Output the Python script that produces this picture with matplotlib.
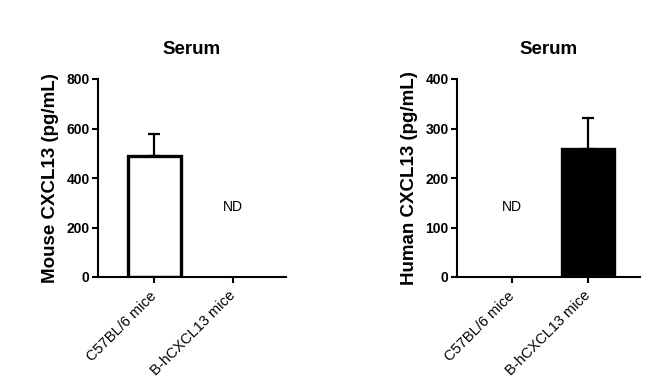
import matplotlib
matplotlib.use('Agg')
import matplotlib.pyplot as plt
import numpy as np

plt.rcParams['font.family'] = ['Liberation Sans', 'DejaVu Sans']

groups = ['C57BL/6 mice', 'B-hCXCL13 mice']
mouse_mean = [490, 0]
mouse_err = [88, 0]
human_mean = [0, 259]
human_err = [0, 63]
mouse_ylim = 800
human_ylim = 400
mouse_ticks = [0, 200, 400, 600, 800]
human_ticks = [0, 100, 200, 300, 400]


def draw_panel(ax, means, errs, colors, ylabel, ymax, ticks, nd_index):
    x = np.arange(len(groups))
    for i in range(len(groups)):
        if means[i] <= 0:
            continue
        ax.bar(x[i], means[i], width=0.68, color=colors[i], edgecolor='black',
               linewidth=2.4, zorder=2)
        ax.errorbar(x[i], means[i], yerr=[[0], [errs[i]]], color='black',
                    elinewidth=1.6, capsize=4, capthick=1.6, zorder=1)
    ax.text(x[nd_index], ymax * 0.355, 'ND', ha='center', va='center', fontsize=10)
    ax.set_xlim(-0.72, 1.68)
    ax.set_ylim(0, ymax)
    ax.set_yticks(ticks)
    ax.set_xticks(x)
    ax.set_xticklabels(groups, rotation=45, ha='right', va='center',
                       rotation_mode='anchor', fontsize=10.5)
    for lab in ax.get_yticklabels():
        lab.set_fontweight('bold')
        lab.set_fontsize(10)
    ax.spines['top'].set_visible(False)
    ax.spines['right'].set_visible(False)
    ax.spines['left'].set_linewidth(1.5)
    ax.spines['bottom'].set_linewidth(1.5)
    ax.tick_params(axis='both', width=1.5, length=4, pad=2)
    ax.tick_params(axis='x', pad=8)
    ax.set_ylabel(ylabel, fontsize=13.5, fontweight='bold', labelpad=5)
    ax.set_title('Serum', fontsize=13.5, fontweight='bold', pad=18)


fig = plt.figure(figsize=(6.66, 3.92), dpi=100)
ax1 = fig.add_axes([98 / 666, 115 / 392, 188 / 666, 198 / 392])
ax2 = fig.add_axes([457 / 666, 115 / 392, 183 / 666, 198 / 392])

draw_panel(ax1, mouse_mean, mouse_err, ['white', 'white'],
           'Mouse CXCL13 (pg/mL)', mouse_ylim, mouse_ticks, 1)
draw_panel(ax2, human_mean, human_err, ['black', 'black'],
           'Human CXCL13 (pg/mL)', human_ylim, human_ticks, 0)

fig.savefig('out.png', dpi=100)
